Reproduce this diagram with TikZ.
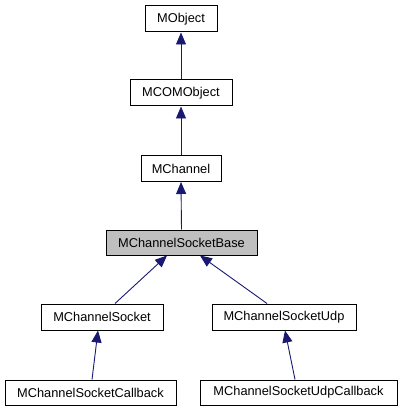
\documentclass[tikz,border=0pt]{standalone}
\usepackage{fontspec}
\setmainfont{Liberation Sans}
\usetikzlibrary{arrows.meta}
\definecolor{edgeblue}{HTML}{191970}
\definecolor{basegray}{HTML}{BFBFBF}
\begin{document}
\begin{tikzpicture}[x=1pt,y=-1pt,
  cls/.style={draw=black,line width=1pt,fill=white,inner sep=0pt,font=\fontsize{12.8}{14}\selectfont},
  inh/.style={draw=edgeblue,line width=0.9pt,-{Triangle[width=10pt,length=12pt,fill=edgeblue]}}]
\useasboundingbox (0,0) rectangle (400,411);
\node[cls,minimum width=72pt,minimum height=26pt] (mobj) at (181,19) {MObject};
\node[cls,minimum width=102pt,minimum height=26pt] (mcom) at (181,93) {MCOMObject};
\node[cls,minimum width=80pt,minimum height=26pt] (mch) at (181,168.5) {MChannel};
\node[cls,fill=basegray,minimum width=151pt,minimum height=25pt] (base) at (181.5,242.5) {MChannelSocketBase};
\node[cls,minimum width=122pt,minimum height=26pt] (sock) at (102,317) {MChannelSocket};
\node[cls,minimum width=144pt,minimum height=26pt] (udp) at (284,317) {MChannelSocketUdp};
\node[cls,minimum width=171pt,minimum height=25pt] (cb) at (90.5,392.5) {MChannelSocketCallback};
\node[cls,minimum width=197pt,minimum height=25pt] (udpcb) at (298.5,392.5) {MChannelSocketUdpCallback};
\draw[inh] (mcom.north) -- (mobj.south);
\draw[inh] (mch.north) -- (mcom.south);
\draw[inh] (base.north) -- (mch.south);
\draw[inh] ([xshift=13pt]sock.north) -- ([xshift=-14.5pt]base.south);
\draw[inh] ([xshift=-17pt]udp.north) -- ([xshift=18.5pt]base.south);
\draw[inh] ([xshift=1.5pt]cb.north) -- ([xshift=-4pt]sock.south);
\draw[inh] ([xshift=-3.5pt]udpcb.north) -- ([xshift=1pt]udp.south);
\end{tikzpicture}
\end{document}
